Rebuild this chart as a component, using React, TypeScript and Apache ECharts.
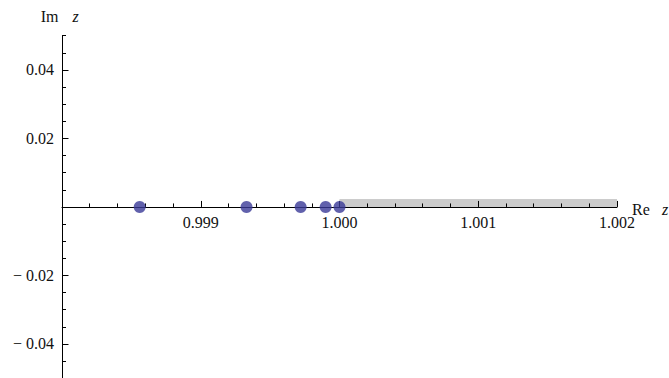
import React, { useEffect, useRef } from "react";
import * as echarts from "echarts";

// Poles on the real axis (Re z, Im z)
const poleRe = [0.99856, 0.99933, 0.99972, 0.9999, 1.0];
const poleIm = [0, 0, 0, 0, 0];

// Branch cut along the real axis: [start, end]
const cutRe = [1.0, 1.002];

// Tick labels
const xTickValues = [0.999, 1.0, 1.001, 1.002];
const yTickValues = [-0.04, -0.02, 0.02, 0.04];

const FONT = "Liberation Serif";
const INK = "#111";

export default function App() {
  const ref = useRef<HTMLDivElement>(null);

  useEffect(() => {
    if (!ref.current) return;
    const chart = echarts.init(ref.current, null, { renderer: "svg" });

    const gridTop = 35.7;
    const gridHeight = 342.5;

    chart.setOption({
      animation: false,
      textStyle: { fontFamily: FONT, fontSize: 16, color: INK },
      grid: {
        left: 62,
        width: 555,
        top: gridTop,
        height: gridHeight,
        outerBoundsMode: "none",
        containLabel: false,
      },
      xAxis: {
        type: "value",
        min: 0.998,
        max: 1.002,
        interval: 0.001,
        position: "bottom",
        // real axis sits at Im z = 0, the middle of the plotting area
        offset: -gridHeight / 2,
        axisLine: { show: true, onZero: false, lineStyle: { color: "#000", width: 1 } },
        axisTick: { show: true, inside: true, length: 6, lineStyle: { color: "#000" } },
        minorTick: { show: true, splitNumber: 5, length: 3.5, lineStyle: { color: "#000" } },
        splitLine: { show: false },
        axisLabel: {
          margin: 8,
          fontFamily: FONT,
          fontSize: 16,
          color: INK,
          customValues: xTickValues,
          formatter: (v: number) => v.toFixed(3),
        },
      },
      yAxis: [
        {
          type: "value",
          min: -0.05,
          max: 0.05,
          interval: 0.005,
          position: "left",
          axisLine: { show: true, onZero: false, lineStyle: { color: "#000", width: 1 } },
          axisTick: { show: true, inside: true, length: 4, lineStyle: { color: "#000" } },
          splitLine: { show: false },
          axisLabel: { show: false },
        },
        {
          type: "value",
          min: -0.05,
          max: 0.05,
          position: "left",
          axisLine: { show: false, onZero: false },
          axisTick: {
            show: true,
            inside: true,
            length: 6.5,
            customValues: yTickValues,
            lineStyle: { color: "#000" },
          },
          splitLine: { show: false },
          axisLabel: {
            margin: 8,
            fontFamily: FONT,
            fontSize: 16,
            color: INK,
            customValues: yTickValues,
            formatter: (v: number) =>
              v < 0 ? "\u2212 " + (-v).toFixed(2) : v.toFixed(2),
          },
        },
      ],
      series: [
        {
          type: "custom",
          z: -1,
          clip: false,
          silent: true,
          encode: { x: [0, 1] },
          data: [[cutRe[0], cutRe[1]]],
          renderItem: (_params: any, api: any) => {
            const p0 = api.coord([api.value(0), 0]);
            const p1 = api.coord([api.value(1), 0]);
            const h = 8;
            return {
              type: "rect",
              shape: { x: p0[0], y: p0[1] - h, width: p1[0] - p0[0], height: h },
              style: { fill: "#cccccc" },
            };
          },
        },
        {
          type: "scatter",
          z: 3,
          symbol: "circle",
          symbolSize: 12,
          silent: true,
          itemStyle: { color: "#393a97" },
          data: poleRe.map((re, i) => [re, poleIm[i]]),
        },
      ],
      graphic: [
        {
          type: "text",
          x: 40.7,
          y: 16.3,
          style: { text: "Im", fontFamily: FONT, fontSize: 16, fill: INK, verticalAlign: "middle" },
        },
        {
          type: "text",
          x: 72.5,
          y: 16.3,
          style: { text: "z", fontFamily: FONT, fontStyle: "italic", fontSize: 16, fill: INK, verticalAlign: "middle" },
        },
        {
          type: "text",
          x: 632,
          y: 209.6,
          style: { text: "Re", fontFamily: FONT, fontSize: 16, fill: INK, verticalAlign: "middle" },
        },
        {
          type: "text",
          x: 662,
          y: 209.6,
          style: { text: "z", fontFamily: FONT, fontStyle: "italic", fontSize: 16, fill: INK, verticalAlign: "middle" },
        },
      ],
    });

    return () => chart.dispose();
  }, []);

  return (
    <div
      ref={ref}
      style={{ position: "fixed", left: 0, top: 0, width: 669, height: 378, background: "#fff" }}
    />
  );
}
